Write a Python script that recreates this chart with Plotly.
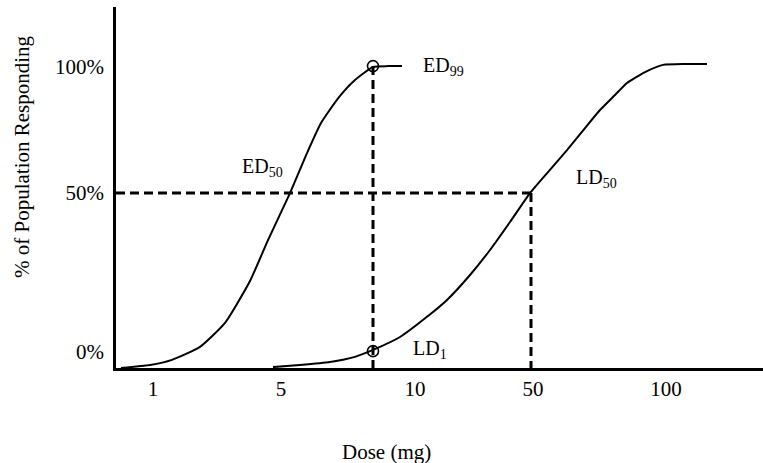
import plotly.graph_objects as go

# Horizontal positions are on the drawing's own dose scale (category-spaced, not true log),
# vertical values are % response levels on the drawn scale.
dose_tick_pos = [153, 281, 415, 533, 666]
dose_tick_labels = ["1", "5", "10", "50", "100"]
resp_tick_pos = [5.3, 58.1, 100]
resp_tick_labels = ["0%", "50%", "100%"]

ed_x = [121, 150, 172, 200, 225, 250, 268, 290, 307, 321, 339, 355, 373, 388, 402]
ed_y = [0.0, 1.0, 2.7, 7.0, 15.0, 28.9, 42.5, 58.1, 71.4, 81.4, 90.0, 95.7, 100.0, 100.3, 100.3]

ld_x = [273, 300, 330, 355, 373, 400, 427, 447, 470, 490, 510, 530, 548, 567, 585, 600, 615, 627, 645, 663, 685, 707]
ld_y = [0.3, 1.0, 2.0, 3.7, 6.0, 10.3, 17.0, 22.6, 30.9, 39.2, 48.5, 58.1, 65.1, 72.4, 79.7, 85.7, 90.7, 94.7, 98.3, 100.7, 101.0, 101.0]

ed99 = (373, 100.3)
ld1 = (373, 5.6)
ld50 = (531, 58.1)
half_level = 58.1

font_family = "Liberation Serif"
fs = 21
fs_lab = 20

fig = go.Figure()
fig.add_trace(go.Scatter(x=ed_x, y=ed_y, mode="lines", line=dict(color="black", width=2, shape="spline", smoothing=0.5), hoverinfo="skip"))
fig.add_trace(go.Scatter(x=ld_x, y=ld_y, mode="lines", line=dict(color="black", width=2, shape="spline", smoothing=0.5), hoverinfo="skip"))

dash = "9px,5px"
fig.add_trace(go.Scatter(x=[116, ld50[0]], y=[half_level, half_level], mode="lines", line=dict(color="black", width=3, dash=dash), hoverinfo="skip"))
fig.add_trace(go.Scatter(x=[ed99[0], ed99[0]], y=[ed99[1], 0], mode="lines", line=dict(color="black", width=3, dash=dash), hoverinfo="skip"))
fig.add_trace(go.Scatter(x=[ld50[0], ld50[0]], y=[half_level, 0], mode="lines", line=dict(color="black", width=3, dash=dash), hoverinfo="skip"))

fig.add_trace(go.Scatter(x=[ed99[0], ld1[0]], y=[ed99[1], ld1[1]], mode="markers",
                         marker=dict(symbol="circle-open", size=11, color="black", line=dict(width=1.6)), hoverinfo="skip"))

def lab(text, x, y, anchor="left"):
    fig.add_annotation(x=x, y=y, text=text, showarrow=False, xanchor=anchor, yanchor="middle",
                       font=dict(family=font_family, size=fs_lab, color="black"))

lab("ED<sub>99</sub>", 421, 100.3)
lab("ED<sub>50</sub>", 240, 66.5)
lab("LD<sub>50</sub>", 574, 63.0)
lab("LD<sub>1</sub>", 411, 6.0)

fig.add_annotation(xref="paper", yref="paper", x=(386 - 116) / (763 - 116), y=(368 - 452) / 361,
                   text="Dose (mg)", showarrow=False, xanchor="center", yanchor="middle",
                   font=dict(family=font_family, size=fs, color="black"))
fig.add_annotation(xref="paper", yref="paper", x=(22 - 116) / (763 - 116), y=(368 - 157) / 361,
                   text="% of Population Responding", showarrow=False, textangle=-90,
                   xanchor="center", yanchor="middle",
                   font=dict(family=font_family, size=fs, color="black"))

fig.update_layout(
    width=763, height=463,
    margin=dict(l=116, r=0, t=7, b=95),
    paper_bgcolor="white", plot_bgcolor="white",
    showlegend=False,
    font=dict(family=font_family, size=fs, color="black"),
    xaxis=dict(range=[116, 763], showgrid=False, zeroline=False, showline=True, linecolor="black", linewidth=2.5,
               tickmode="array", tickvals=dose_tick_pos, ticktext=dose_tick_labels, ticks="",
               ticklabelstandoff=0, tickfont=dict(size=fs), fixedrange=True),
    yaxis=dict(range=[0, 361 / 3.01], showgrid=False, zeroline=False, showline=True, linecolor="black", linewidth=2.5,
               tickmode="array", tickvals=resp_tick_pos, ticktext=resp_tick_labels, ticks="",
               ticklabelstandoff=5, tickfont=dict(size=fs), fixedrange=True),
)

fig.write_html("out.html", config={"displayModeBar": False},
               post_script="document.body.style.margin='0';document.body.style.overflow='hidden';")
